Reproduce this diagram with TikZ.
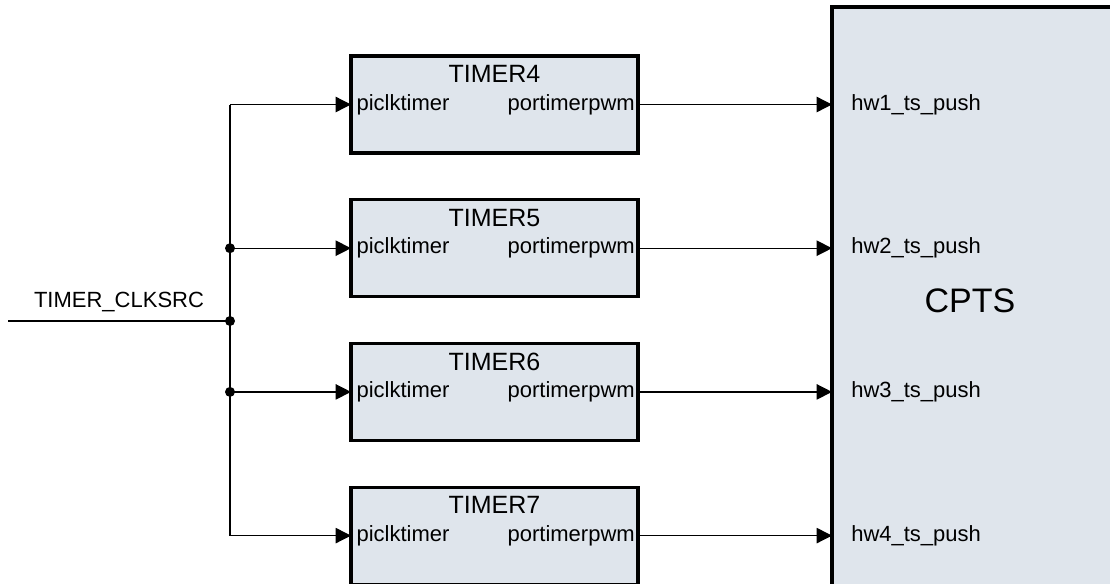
\documentclass[tikz,border=0pt]{standalone}
\usepackage{fontspec}
\setmainfont{Liberation Sans}
\usetikzlibrary{arrows.meta,positioning}
\definecolor{boxfill}{RGB}{223,229,236}

\begin{document}
\begin{tikzpicture}[
  x=0.75pt, y=-0.75pt,
  box/.style={draw, line width=2.4pt, fill=boxfill, outer sep=0pt},
  timerbox/.style={box, minimum width=215.25pt, minimum height=72.75pt},
  port/.style={font=\fontsize{16.5}{18}\selectfont, inner sep=0pt},
  title/.style={font=\fontsize{18.75}{20}\selectfont, inner sep=0pt},
  wire/.style={line width=1pt},
  arr/.style={wire, -{Triangle[length=11.5pt, width=11.5pt]}},
  dot/.style={circle, fill, inner sep=0pt, minimum size=7.5pt}
]
\useasboundingbox (0,0) rectangle (1110,583);
\clip (0,0) rectangle (1110,583);

% CPTS block, runs off the right and bottom edges
\node[box, anchor=north west, minimum width=240pt, minimum height=450pt] (cpts) at (832,7) {};
\node[font=\fontsize{25.5}{28}\selectfont, inner sep=0pt] (cptslabel) at (970,301) {CPTS};

% clock source
\coordinate (src) at (8,321);
\coordinate (clk) at (230,321);
\draw[wire] (src) -- (clk) node[port, midway, above=6pt] (clklabel) {TIMER\_CLKSRC};

\foreach \tnum [count=\i] in {4,5,6,7} {
  \pgfmathsetmacro\ty{104.5+143.7*(\i-1)}
  \node[timerbox] (t\tnum) at (494.5,\ty) {};
  \node[title, below=7pt of t\tnum.north] (t\tnum title) {TIMER\tnum};
  \node[port, right=4pt of t\tnum.west] (t\tnum in) {piclktimer};
  \node[port, left=2.25pt of t\tnum.east] (t\tnum out) {portimerpwm};
  \node[port, anchor=west] (hw\i) at ([xshift=14.25pt]t\tnum.east -| cpts.west) {hw\i\_ts\_push};
  \draw[arr] (t\tnum.west -| clk) -- (t\tnum.west);
  \draw[arr] (t\tnum.east) -- (t\tnum.east -| cpts.west);
}

% clock bus
\draw[wire] (t4.west -| clk) -- (t7.west -| clk);
\node[dot] (j5) at (t5.west -| clk) {};
\node[dot] (jclk) at (clk) {};
\node[dot] (j6) at (t6.west -| clk) {};
\end{tikzpicture}
\end{document}
